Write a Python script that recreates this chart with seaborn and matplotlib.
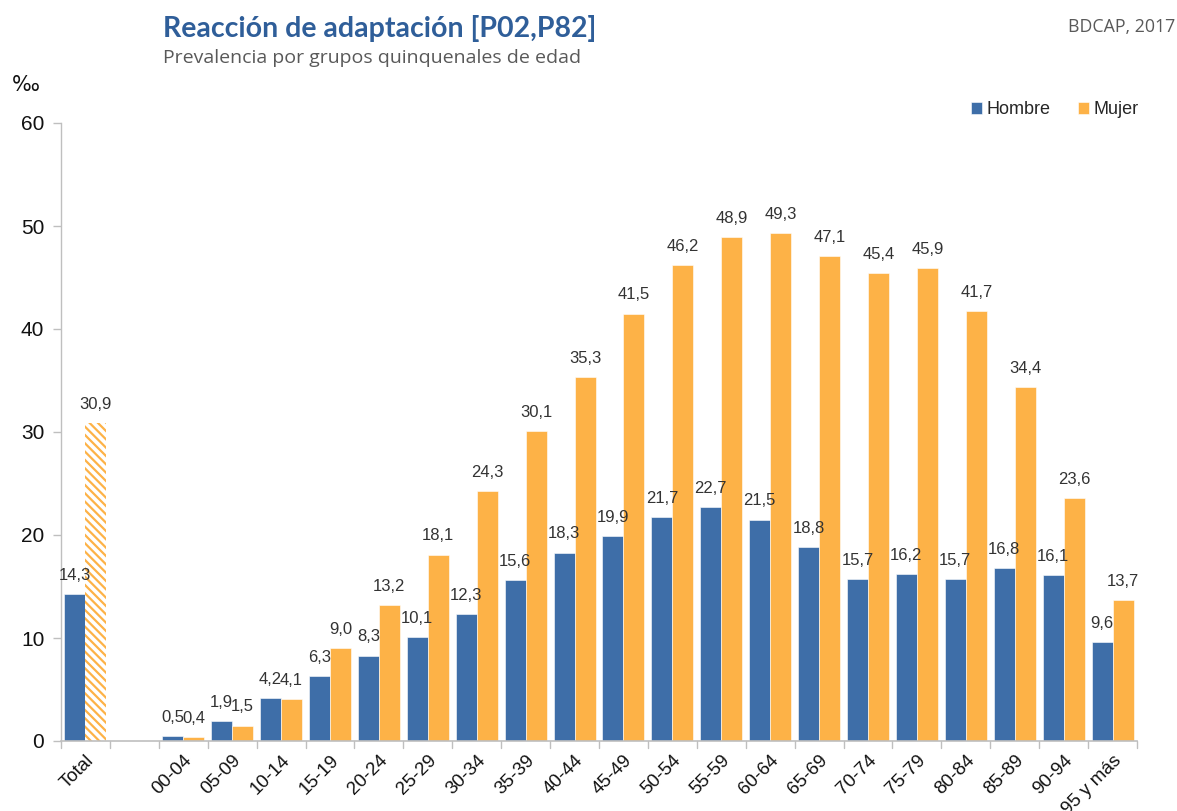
import matplotlib
matplotlib.use("Agg")
import matplotlib.pyplot as plt
import seaborn as sns
import pandas as pd
import numpy as np

categories = ["Total", "", "00-04", "05-09", "10-14", "15-19", "20-24", "25-29", "30-34",
              "35-39", "40-44", "45-49", "50-54", "55-59", "60-64", "65-69", "70-74",
              "75-79", "80-84", "85-89", "90-94", "95 y más"]
hombre = [14.3, None, 0.5, 1.9, 4.2, 6.3, 8.3, 10.1, 12.3, 15.6, 18.3, 19.9, 21.7, 22.7,
          21.5, 18.8, 15.7, 16.2, 15.7, 16.8, 16.1, 9.6]
mujer = [30.9, None, 0.4, 1.5, 4.1, 9.0, 13.2, 18.1, 24.3, 30.1, 35.3, 41.5, 46.2, 48.9,
         49.3, 47.1, 45.4, 45.9, 41.7, 34.4, 23.6, 13.7]
series = ["Hombre", "Mujer"]
colors = ["#3E6EA8", "#FDB247"]
yticks = [0, 10, 20, 30, 40, 50, 60]

rows = []
for c, h, m in zip(categories, hombre, mujer):
    if h is not None:
        rows.append({"grupo": c, "sexo": "Hombre", "valor": h})
        rows.append({"grupo": c, "sexo": "Mujer", "valor": m})
df = pd.DataFrame(rows)

sns.set_theme(style="white")
narrow = ["Liberation Sans Narrow", "Liberation Sans", "DejaVu Sans"]
plt.rcParams["font.family"] = narrow
plt.rcParams["hatch.linewidth"] = 1.6

fig = plt.figure(figsize=(11.77, 8.11), dpi=100)
ax = fig.add_axes([61 / 1177, 1 - 741 / 811, (1137 - 61) / 1177, (741 - 123) / 811])

sns.barplot(data=df, x="grupo", y="valor", hue="sexo", order=categories,
            hue_order=series, palette=colors, width=0.86, saturation=1,
            edgecolor="white", linewidth=0.4, ax=ax, legend=True)

# hatched Total bar for Mujer
mujer_bars = ax.containers[1]
tb = mujer_bars[0]
tb.set_facecolor("white")
tb.set_edgecolor(colors[1])
tb.set_hatch("\\\\\\\\")
tb.set_linewidth(0)

for cont in ax.containers:
    labs = []
    for bar in cont:
        h = bar.get_height()
        labs.append("" if (h is None or np.isnan(h)) else f"{h:.1f}".replace(".", ","))
    ax.bar_label(cont, labels=labs, padding=8, fontsize=12, color="#333333",
                 family=narrow)

ax.set_ylim(0, 60)
ax.set_xlim(-0.5, len(categories) - 0.5)
ax.set_yticks(yticks)
ax.set_yticklabels([str(v) for v in yticks], fontsize=15, color="#111111")
ax.set_xticks(range(len(categories)))
ax.set_xticklabels(categories, rotation=45, ha="right", rotation_mode="anchor",
                   fontsize=13.5, color="#111111")
ax.tick_params(axis="x", length=0, pad=8)
ax.tick_params(axis="y", length=6, width=1, color="#BFBFBF", direction="out", pad=6, left=True)
# boundary ticks
for b in np.arange(-0.5, len(categories) + 0.5, 1):
    ax.plot([b, b], [0, -0.012], transform=ax.get_xaxis_transform(), color="#BFBFBF",
            lw=1, clip_on=False)
ax.set_xlabel("")
ax.set_ylabel("")
for s in ["top", "right"]:
    ax.spines[s].set_visible(False)
ax.spines["left"].set_color("#BFBFBF")
ax.spines["bottom"].set_color("#BFBFBF")
ax.spines["left"].set_linewidth(1)
ax.spines["bottom"].set_linewidth(1.2)

leg = ax.legend(loc="center right", bbox_to_anchor=(1151 / 1177, 1 - 110 / 811),
                bbox_transform=fig.transFigure, ncol=2, frameon=False,
                fontsize=13, handlelength=0.6, handleheight=0.6, columnspacing=1.5,
                handletextpad=0.25, borderpad=0.2)

fig.text(163 / 1177, 1 - 29 / 811, "Reacción de adaptación [P02,P82]", fontsize=20.5,
         fontweight="bold", color="#2F5E99", family=["Lato", "DejaVu Sans"], va="center")
fig.text(163 / 1177, 1 - 58 / 811, "Prevalencia por grupos quinquenales de edad",
         fontsize=14, color="#595959", family=["Open Sans", "DejaVu Sans"], va="center")
fig.text(1175 / 1177, 1 - 27 / 811, "BDCAP, 2017", fontsize=12.8, color="#595959",
         family=["Open Sans", "DejaVu Sans"], va="center", ha="right")
fig.text(12 / 1177, 1 - 85 / 811, "‰", fontsize=15, color="#111111",
         family=["DejaVu Sans"], va="center", ha="left")

fig.savefig("out.png", dpi=100)
